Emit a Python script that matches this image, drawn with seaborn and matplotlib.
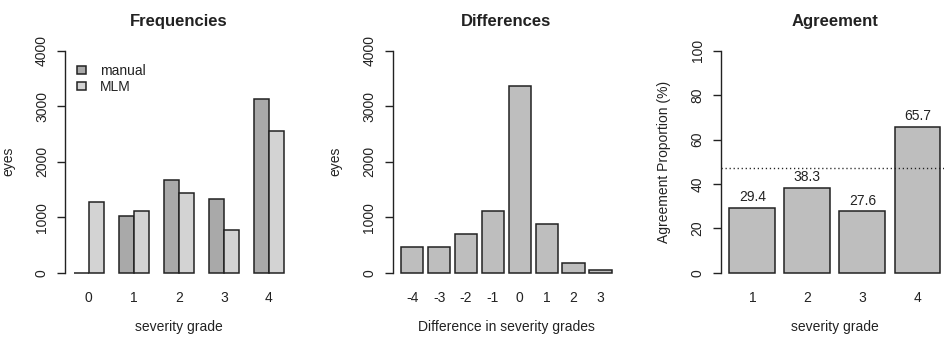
import matplotlib
matplotlib.use("Agg")
import matplotlib.pyplot as plt
import numpy as np
import pandas as pd
import seaborn as sns

# ---------------- data ----------------
grades = ["0", "1", "2", "3", "4"]
series_names = ["manual", "MLM"]
manual_counts = [0, 1023, 1672, 1329, 3140]
mlm_counts = [1281, 1119, 1444, 770, 2562]

diff_labels = ["-4", "-3", "-2", "-1", "0", "1", "2", "3"]
diff_counts = [469, 469, 698, 1119, 3374, 884, 168, 54]

agree_grades = ["1", "2", "3", "4"]
agree_pct = [29.4, 38.3, 27.6, 65.7]
overall_agree = 47.1

count_ticks = [0, 1000, 2000, 3000, 4000]
pct_ticks = [0, 20, 40, 60, 80, 100]

# ---------------- style ----------------
sns.set_theme(style="white")
plt.rcParams["font.family"] = ["Liberation Sans", "DejaVu Sans"]
TXT = "#222222"
EDGE = "#222222"
FS = 10
plt.rcParams.update({
    "text.color": TXT, "axes.labelcolor": TXT,
    "xtick.color": TXT, "ytick.color": TXT,
})

W, H = 945, 340
fig = plt.figure(figsize=(W / 100, H / 100), dpi=100)
fig.patch.set_facecolor("white")

bottom_px = 58.4
height_px = 239.6
def add_ax(left_px, width_px):
    return fig.add_axes([left_px / W, bottom_px / H, width_px / W, height_px / H])

ax1 = add_ax(65.3, 227.0)
ax2 = add_ax(392.6, 227.6)
ax3 = add_ax(721.0, 227.8)

def style_axis(ax, ymax, yticks, title, xlabel, ylabel):
    ax.set_facecolor("white")
    sns.despine(ax=ax, top=True, right=True, bottom=True, left=False)
    ax.spines["left"].set_bounds(0, ymax)
    ax.spines["left"].set_color(EDGE)
    ax.spines["left"].set_linewidth(1.0)
    ax.set_ylim(-ymax * 0.04, ymax * 1.04)
    ax.set_yticks(yticks)
    ax.set_yticklabels([str(t) for t in yticks])
    ax.tick_params(axis="y", labelrotation=90, length=5.8, width=1.0,
                   pad=6, labelsize=FS, left=True)
    for lab in ax.get_yticklabels():
        lab.set_va("center")
    ax.tick_params(axis="x", length=0, pad=6.5, labelsize=FS)
    ax.set_title(title, fontsize=12, fontweight="bold", pad=11.5, color=TXT)
    ax.set_xlabel(xlabel, fontsize=FS)
    ax.set_ylabel(ylabel, fontsize=FS)
    ax.xaxis.set_label_coords(0.5, -0.162)
    ax.yaxis.set_label_coords(-50 / 227.0, 0.5)
    ax.grid(False)

# ---------------- panel 1: Frequencies ----------------
freq_df = pd.DataFrame({
    "grade": grades * 2,
    "source": [series_names[0]] * len(grades) + [series_names[1]] * len(grades),
    "count": manual_counts + mlm_counts,
})
sns.barplot(data=freq_df, x="grade", y="count", hue="source",
            order=grades, hue_order=series_names,
            palette={"manual": "#A9A9A9", "MLM": "#D3D3D3"},
            saturation=1, width=2 / 3, gap=0, errorbar=None,
            edgecolor=EDGE, linewidth=1.1, ax=ax1)
ax1.set_xlim(-0.52, 4.52)
style_axis(ax1, 4000, count_ticks, "Frequencies", "severity grade", "eyes")
sns.move_legend(ax1, loc="upper left",
                bbox_to_anchor=(76.7 / W, 1 - 64 / H),
                bbox_transform=fig.transFigure,
                frameon=False, title=None, fontsize=10,
                borderpad=0, borderaxespad=0,
                handlelength=0.7, handleheight=0.5,
                handletextpad=0.95, labelspacing=0.12)
for t in ax1.get_legend().get_texts():
    t.set_color(TXT)

# ---------------- panel 2: Differences ----------------
sns.barplot(x=diff_labels, y=diff_counts, order=diff_labels,
            color="#BEBEBE", saturation=1, width=1 / 1.2, errorbar=None,
            edgecolor=EDGE, linewidth=1.1, ax=ax2)
ax2.set_xlim(-0.73, 7.73)
style_axis(ax2, 4000, count_ticks, "Differences",
           "Difference in severity grades", "eyes")

# ---------------- panel 3: Agreement ----------------
sns.barplot(x=agree_grades, y=agree_pct, order=agree_grades,
            color="#BEBEBE", saturation=1, width=1 / 1.2, errorbar=None,
            edgecolor=EDGE, linewidth=1.1, ax=ax3)
ax3.set_xlim(-0.57, 3.57)
style_axis(ax3, 100, pct_ticks, "Agreement", "severity grade",
           "Agreement Proportion (%)")
ax3.axhline(overall_agree, color=EDGE, linewidth=1.0, linestyle=(0, (0.9, 2.0)))
ax3.bar_label(ax3.containers[0], fmt="%.1f", padding=2.5, fontsize=FS, color=TXT)

fig.savefig("out.png", dpi=100, facecolor="white")
